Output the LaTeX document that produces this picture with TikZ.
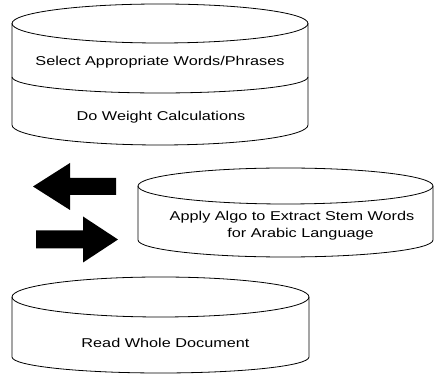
\documentclass[tikz,border=0pt]{standalone}
\usepackage{fontspec}
\setmainfont{Liberation Sans}[FakeStretch=1.27]
\usepackage{tikz}
\tikzset{%
	drum line/.style={
		draw=black,
		line width=0.8pt
	},
	drum label/.style={
		font=\fontsize{12.8}{17}\selectfont,
		align=center,
		inner sep=0pt
	},
	block arrow/.style={
		fill=black
	},
}

\begin{document}
\begin{tikzpicture}[x=1pt,y=1pt]
	\useasboundingbox (0,0) rectangle (434,374);

	% Draw the top drum
	\draw[drum line] (160,350.5) ellipse [x radius=148pt, y radius=19.5pt];
	\draw[drum line] (12,350.5) -- (12,249) arc[start angle=180, end angle=360, x radius=148pt, y radius=20pt] -- (308,350.5);
	\draw[drum line] (12,297) arc[start angle=180, end angle=360, x radius=148pt, y radius=16pt];
	\node[drum label, anchor=base] (select) at (160,308) {Select Appropriate Words/Phrases};
	\node[drum label, anchor=base] (weight) at (161,253) {Do Weight Calculations};

	% Draw the middle drum
	\draw[drum line] (285.5,188) ellipse [x radius=147.5pt, y radius=18pt];
	\draw[drum line] (138,188) -- (138,134) arc[start angle=180, end angle=360, x radius=147.5pt, y radius=17pt] -- (433,188);
	\node[drum label] (stem) at (292,148.5) {Apply Algo to Extract Stem Words\\ \hspace*{17pt}for Arabic Language};

	% Draw the bottom drum
	\draw[drum line] (160.5,77) ellipse [x radius=148.5pt, y radius=20pt];
	\draw[drum line] (12,77) -- (12,17) arc[start angle=180, end angle=360, x radius=148.5pt, y radius=16pt] -- (309,77);
	\node[drum label, anchor=base] (read) at (165.5,26) {Read Whole Document};

	% Draw the two block arrows
	\fill[block arrow] (33,187.5) -- (70,211) -- (70,196) -- (116,196) -- (116,179) -- (70,179) -- (70,164) -- cycle;
	\fill[block arrow] (118,134.5) -- (83,157.5) -- (83,143.5) -- (36,143.5) -- (36,125.5) -- (83,125.5) -- (83,111.5) -- cycle;
\end{tikzpicture}
\end{document}
